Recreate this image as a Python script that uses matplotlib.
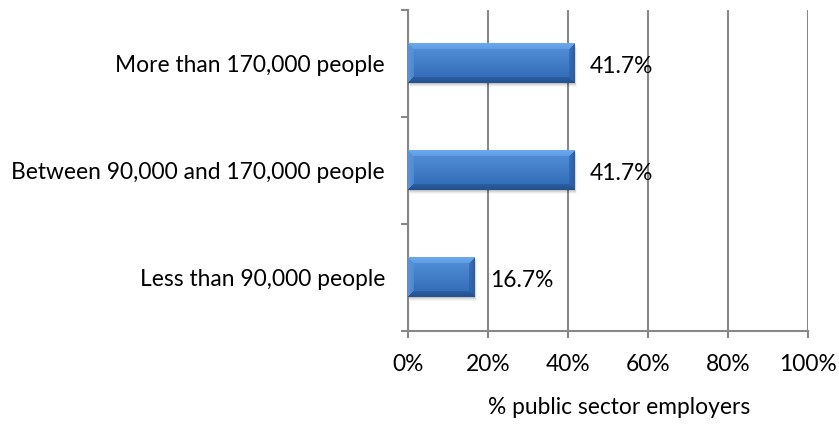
import numpy as np
import matplotlib
matplotlib.use("Agg")
import matplotlib.pyplot as plt
from matplotlib.ticker import FuncFormatter

categories = ["Less than 90,000 people",
              "Between 90,000 and 170,000 people",
              "More than 170,000 people"]
values = [16.7, 41.7, 41.7]
value_labels = ["16.7%", "41.7%", "41.7%"]
x_ticks = [0, 20, 40, 60, 80, 100]
x_label = "% public sector employers"

plt.rcParams["font.family"] = ["Lato", "DejaVu Sans"]

W, H, DPI = 839, 428, 100
FS = 16.4
fig = plt.figure(figsize=(W / DPI, H / DPI), dpi=DPI)
ax = fig.add_axes([408 / W, (H - 330.5) / H, 400 / W, 320.5 / H])

grid_col = "#878787"
ax.set_xlim(0, 100)
ax.set_ylim(-0.5, len(categories) - 0.5)

bar_h = 0.37
ypos = np.arange(len(categories))
bars = ax.barh(ypos, values, height=bar_h, color="none", edgecolor="none", zorder=3)


def bevel_image(wp, hp, b=6):
    """RGBA image of a bevelled bar face, wp x hp pixels."""
    wp, hp = max(int(round(wp)), 2), max(int(round(hp)), 2)
    ii, jj = np.mgrid[0:hp, 0:wp]
    t = ii / (hp - 1)
    top_c = np.array([0x55, 0x92, 0xdc]) / 255
    bot_c = np.array([0x30, 0x68, 0xb2]) / 255
    img = top_c[None, None, :] * (1 - t[..., None]) + bot_c[None, None, :] * t[..., None]
    d = np.stack([ii, hp - 1 - ii, jj, wp - 1 - jj])  # top, bottom, left, right
    region = np.argmin(d, axis=0)
    dmin = np.min(d, axis=0)
    edge = dmin < b
    cols = {
        0: np.array([0x6c, 0xa8, 0xee]) / 255,
        1: np.array([0x25, 0x52, 0x8e]) / 255,
        2: np.array([0x58, 0x94, 0xdc]) / 255,
        3: np.array([0x2c, 0x5e, 0xa4]) / 255,
    }
    for k, c in cols.items():
        m = edge & (region == k)
        f = (1 - dmin[m] / b)[:, None] * 0.5 + 0.5
        img[m] = c * f + img[m] * (1 - f)
    rgba = np.concatenate([img, np.ones((hp, wp, 1))], axis=2)
    return rgba


fig.canvas.draw()
inv = ax.transData.inverted()
for rect in bars:
    x0, y0 = rect.get_x(), rect.get_y()
    w, h = rect.get_width(), rect.get_height()
    (px0, py0), (px1, py1) = ax.transData.transform([(x0, y0), (x0 + w, y0 + h)])
    # soft shadow under the bar
    for k, a in zip(range(1, 5), [0.10, 0.07, 0.05, 0.03]):
        dy = inv.transform((0, py0 - k))[1] - inv.transform((0, py0))[1]
        dx = inv.transform((px0 + k * 0.5, 0))[0] - x0
        ax.add_patch(plt.Rectangle((x0 + dx, y0 + dy), w, h, facecolor="black",
                                   alpha=a, edgecolor="none", zorder=2.5))
    img = bevel_image(px1 - px0, py1 - py0)
    ax.imshow(img, extent=(x0, x0 + w, y0, y0 + h), origin="upper",
              aspect="auto", zorder=3, interpolation="bilinear")

for y, v, lab in zip(ypos, values, value_labels):
    ax.annotate(lab, (v, y), xytext=(11, -2.5), textcoords="offset points",
                ha="left", va="center", fontsize=FS, color="black", zorder=4)

ax.set_xlim(0, 100)
ax.set_ylim(-0.5, len(categories) - 0.5)

ax.set_xticks(x_ticks)
ax.xaxis.set_major_formatter(FuncFormatter(lambda v, p: f"{v:.0f}%"))
ax.set_yticks(ypos)
ax.set_yticklabels(categories)
ax.set_yticks(np.arange(-0.5, len(categories), 1.0), minor=True)

ax.grid(axis="x", color=grid_col, linewidth=1.5, zorder=0)
ax.set_axisbelow(True)
for s in ["top", "right"]:
    ax.spines[s].set_visible(False)
for s in ["left", "bottom"]:
    ax.spines[s].set_color(grid_col)
    ax.spines[s].set_linewidth(1.5)

ax.tick_params(axis="y", which="major", length=0, pad=23 * 0.72, labelsize=FS)
ax.tick_params(axis="y", which="minor", length=5, width=1.5, color=grid_col)
ax.tick_params(axis="x", length=5, width=1.5, color=grid_col, pad=12, labelsize=FS)

fig.text(619 / W, 1 - 407 / H, x_label, ha="center", va="center", fontsize=FS)

fig.savefig("out.png", dpi=DPI, facecolor="white")
